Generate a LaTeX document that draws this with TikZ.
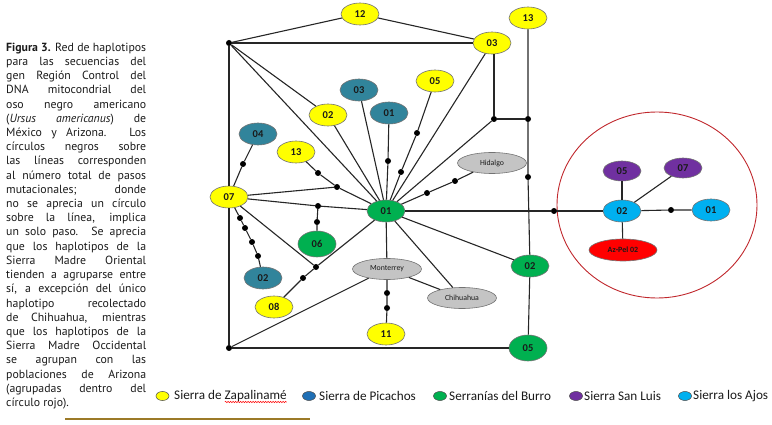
\documentclass[tikz,border=0pt]{standalone}
\usepackage{fontspec}
\setmainfont{PT Sans}
\newfontfamily\nodefont{Carlito}
\usetikzlibrary{shapes.geometric,calc,decorations.pathmorphing}
\definecolor{cyel}{HTML}{FFFF00}
\definecolor{cblue}{HTML}{31849B}
\definecolor{cgreen}{HTML}{00B050}
\definecolor{cgray}{HTML}{C4C4C4}
\definecolor{cpurp}{HTML}{7030A0}
\definecolor{csky}{HTML}{00B0F0}
\definecolor{cred}{HTML}{FF0000}
\definecolor{ccirc}{HTML}{C0282D}
\definecolor{clegblue}{HTML}{1F6FB5}
\definecolor{cbrown}{HTML}{9C7A28}
\definecolor{ctext}{HTML}{1A1A1A}
\newsavebox\capbox
\newcommand\fitline[1]{\sbox\capbox{#1}\ifdim\wd\capbox>140pt \resizebox{140pt}{\height}{\usebox\capbox}\else\makebox[140pt][s]{#1}\fi}
\newcommand\capl[2]{\node[captxt] (cap#1) at (6,{37.2+14.2*#1}) {\fitline{#2}};}
\begin{document}
\begin{tikzpicture}[x=1pt,y=-1pt,
  hap/.style={ellipse, draw=black!55, line width=0.6pt, minimum width=38pt, minimum height=22pt, inner sep=0pt, text=ctext, font=\nodefont\bfseries\fontsize{10.5}{10.5}\selectfont},
  yel/.style={hap, fill=cyel},
  blu/.style={hap, fill=cblue},
  grn/.style={hap, fill=cgreen},
  pur/.style={hap, fill=cpurp, minimum height=20pt},
  sky/.style={hap, fill=csky},
  geo/.style={ellipse, draw=black!55, line width=0.6pt, fill=cgray, minimum width=69pt, minimum height=21pt, inner sep=0pt, text=ctext, font=\nodefont\fontsize{7.8}{7.8}\selectfont},
  azp/.style={ellipse, draw=black!55, line width=0.6pt, fill=cred, minimum width=68pt, minimum height=22pt, inner sep=0pt, text=ctext, font=\nodefont\bfseries\fontsize{8}{8}\selectfont},
  dotn/.style={circle, fill=black, inner sep=0pt, minimum size=6pt},
  link/.style={line width=1.1pt, black!85},
  captxt/.style={anchor=base west, inner sep=0pt, text=ctext, font=\fontsize{11.8}{14}\selectfont},
  legell/.style={ellipse, draw=black!70, line width=0.5pt, minimum width=13pt, minimum height=9pt, inner sep=0pt},
  legtxt/.style={anchor=west, inner sep=0pt, text=ctext, font=\nodefont\fontsize{13.2}{13.2}\selectfont}
]
\useasboundingbox (0,0) rectangle (772,425);

% caption
\capl{1}{\textbf{Figura 3.} Red de haplotipos}
\capl{2}{para las secuencias del}
\capl{3}{gen Región Control del}
\capl{4}{DNA mitocondrial del}
\capl{5}{oso negro americano}
\capl{6}{(\textit{Ursus americanus}) de}
\capl{7}{México y Arizona. Los}
\capl{8}{círculos negros sobre}
\capl{9}{las líneas corresponden}
\capl{10}{al número total de pasos}
\capl{11}{mutacionales; donde}
\capl{12}{no se aprecia un círculo}
\capl{13}{sobre la línea, implica}
\capl{14}{un solo paso. Se aprecia}
\capl{15}{que los haplotipos de la}
\capl{16}{Sierra Madre Oriental}
\capl{17}{tienden a agruparse entre}
\capl{18}{sí, a excepción del único}
\capl{19}{haplotipo recolectado}
\capl{20}{de Chihuahua, mientras}
\capl{21}{que los haplotipos de la}
\capl{22}{Sierra Madre Occidental}
\capl{23}{se agrupan con las}
\capl{24}{poblaciones de Arizona}
\capl{25}{(agrupadas dentro del}
\node[captxt] (cap26) at (6,{37.2+14.2*26}) {círculo rojo).};

% red circle
\node[ellipse, draw=ccirc, line width=0.9pt, minimum width=200pt, minimum height=186pt, inner sep=0pt] (redc) at (657,205) {};

% haplotype nodes
\node[yel] (Y12) at (360,14) {12};
\node[yel] (Y13a) at (528,18) {13};
\node[yel] (Y03) at (492,43) {03};
\node[dotn] (J1) at (229,43) {};
\node[blu] (B03) at (359,90) {03};
\node[yel] (Y05) at (435,81) {05};
\node[yel] (Y02) at (328,115) {02};
\node[blu] (B01) at (389,113) {01};
\node[blu] (B04) at (258,134) {04};
\node[yel] (Y13b) at (296,152) {13};
\node[geo] (HID) at (492,163) {Hidalgo};
\node[dotn] (J2) at (494,119) {};
\node[dotn] (J3) at (528,119) {};
\node[dotn] (D13) at (528,177) {};
\node[yel] (Y07) at (229,197) {07};
\node[grn] (G01) at (386,211) {01};
\node[grn, minimum height=26pt] (G06) at (317,244) {06};
\node[blu] (B02) at (263,278) {02};
\node[yel] (Y08) at (274,307) {08};
\node[geo] (MON) at (387,269) {Monterrey};
\node[geo] (CHI) at (462,298) {Chihuahua};
\node[yel] (Y11) at (386,334) {11};
\node[grn] (G02) at (530,266) {02};
\node[grn, minimum height=26pt] (G05) at (528,348) {05};
\node[dotn] (J4) at (229,348) {};

% mutation dots
\node[dotn] (DA) at (243,164) {};
\node[dotn] (DB) at (318,173) {};
\node[dotn] (DC) at (337,187) {};
\node[dotn] (DD) at (388,161) {};
\node[dotn] (DE) at (417,133) {};
\node[dotn] (DF) at (401,172) {};
\node[dotn] (DG) at (455,181) {};
\node[dotn] (DH) at (427,193) {};
\node[dotn] (DI) at (318,206) {};
\node[dotn] (DJ) at (317,222) {};
\node[dotn] (DK) at (240,218) {};
\node[dotn] (DL) at (245,228) {};
\node[dotn] (DM) at (252,242) {};
\node[dotn] (DN) at (258,256) {};
\node[dotn] (DO) at (316,267) {};
\node[dotn] (DP) at (303,278) {};
\node[dotn] (DQ) at (387,293) {};
\node[dotn] (DR) at (387,308) {};
\node[dotn] (DS) at (554,211) {};

% red group
\node[sky] (S02) at (622,211) {02};
\node[pur] (P05) at (622,171) {05};
\node[pur] (P07) at (683,168) {07};
\node[sky] (S01) at (711,210) {01};
\node[dotn] (DT) at (671,210) {};
\node[azp] (AZ) at (623,250) {Az-Pel 02};

% connectors
\draw[link] (J1) -- (Y12);
\draw[link] (Y12) -- (Y03);
\draw[link] (J1) -- (Y03);
\draw[link] (J1) -- (Y07);
\draw[link] (J1) -- (G01);
\draw[link] (J1) -- (Y02);
\draw[link] (Y02) -- (G01);
\draw[link] (B03) -- (G01);
\draw[link] (B01) -- (DD) -- (G01);
\draw[link] (Y05) -- (DE) -- (DF) -- (G01);
\draw[link] (Y03) -- (G01);
\draw[link] (J2) -- (J2 |- Y03.south);
\draw[link] (J2) -- (J3);
\draw[link] (J2) -- (G01);
\draw[link] (HID) -- (DG) -- (DH) -- (G01);
\draw[link] (Y13a) -- (J3) -- (D13) -- (G02);
\draw[link] (G02) -- (G05);
\draw[link] (G01) -- (G02);
\draw[link] (G01) -- (DS) -- (S02);
\draw[link] (G01) -- (CHI);
\draw[link] (G01) -- (MON);
\draw[link] (MON) -- (CHI);
\draw[link] (MON) -- (DQ) -- (DR) -- (Y11);
\draw[link] (MON) -- (J4);
\draw[link] (J4) -- (G05);
\draw[link] (J4) -- (Y07);
\draw[link] (B04) -- (DA) -- (Y07);
\draw[link] (Y13b) -- (DB) -- (DC) -- (G01);
\draw[link] (Y07) -- (DC);
\draw[link] (Y07) -- (DI) -- (G01);
\draw[link] (DI) -- (DJ) -- (G06);
\draw[link] (Y07) -- (DK) -- (DL) -- (DM) -- (DN) -- (B02);
\draw[link] (Y07) -- (DO);
\draw[link] (G01) -- (DO) -- (DP) -- (Y08);
\draw[link] (S02) -- (P05);
\draw[link] (S02) -- (P07);
\draw[link] (S02) -- (DT) -- (S01);
\draw[link] (S02) -- (AZ);

% legend
\node[legell, fill=cyel] (L1) at (162.5,396) {};
\node[legtxt] (T1) at (174,396) {Sierra de Zapalinamé};
\node[legell, fill=clegblue] (L2) at (309,396) {};
\node[legtxt] (T2) at (319,396) {Sierra de Picachos};
\node[legell, fill=cgreen] (L3) at (440,396) {};
\node[legtxt] (T3) at (449,396) {Serranías del Burro};
\node[legell, fill=cpurp] (L4) at (576,396) {};
\node[legtxt] (T4) at (584,396) {Sierra San Luis};
\node[legell, fill=csky] (L5) at (685,396) {};
\node[legtxt] (T5) at (693,396) {Sierra los Ajos};
\draw[red, line width=0.5pt, decorate, decoration={snake, amplitude=0.7pt, segment length=2.5pt}]
  ($(T1.base west)!0.45!(T1.base east)+(0,2.5)$) -- ($(T1.base east)+(0,2.5)$);

% rule
\draw[cbrown, line width=1.6pt] (65,419) -- (310,419);
\end{tikzpicture}
\end{document}
